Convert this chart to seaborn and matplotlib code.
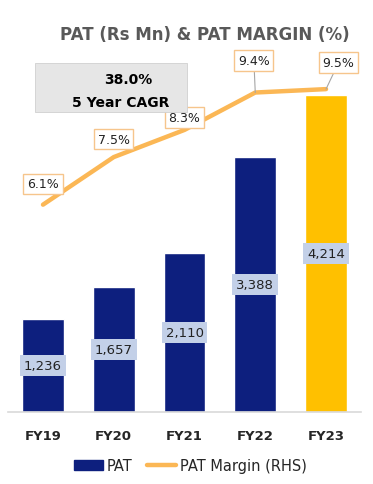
import seaborn as sns
import matplotlib.pyplot as plt
import numpy as np
import pandas as pd
from matplotlib.patches import Patch, Rectangle
from matplotlib.lines import Line2D

years = ['FY19', 'FY20', 'FY21', 'FY22', 'FY23']
pat = [1236, 1657, 2110, 3388, 4214]
pat_margin = [6.1, 7.5, 8.3, 9.4, 9.5]
cagr_value = '38.0%'
cagr_label = '5 Year CAGR'

navy = '#0d1f7e'
gold = '#ffc000'
line_col = '#fbb755'

sns.set_style('white')
plt.rcParams['font.family'] = ['DejaVu Sans']

df = pd.DataFrame({'year': years, 'pat': pat, 'margin': pat_margin})

fig = plt.figure(figsize=(3.73, 4.85), dpi=100)
ax = fig.add_axes([0.0204, 0.1485, 0.9485, 0.775])

bar_colors = [navy] * 4 + [gold]
sns.barplot(data=df, x='year', y='pat', hue='year', palette=bar_colors,
            legend=False, width=0.59, saturation=1, ax=ax)
ax.set_ylim(0, 5000)
ax.set_xlim(-0.5, 4.5)
ax.set_xlabel('')
ax.set_ylabel('')
ax.set_yticks([])
for s in ['top', 'right', 'left']:
    ax.spines[s].set_visible(False)
ax.spines['bottom'].set_color('#d9d9d9')
ax.spines['bottom'].set_linewidth(1.2)
ax.tick_params(axis='x', length=0, pad=12)
for lbl in ax.get_xticklabels():
    lbl.set_fontweight('bold')
    lbl.set_fontsize(9.5)

# bar value labels
for i, v in enumerate(pat):
    ax.text(i, v / 2, f'{v:,}', ha='center', va='center', fontsize=9.5,
            color='#222222',
            bbox=dict(boxstyle='square,pad=0.3', fc='#c3d0e8', ec='none'))

# margin line on secondary axis
ax2 = ax.twinx()
ax2.plot(range(len(years)), pat_margin, color=line_col, lw=3.2,
         solid_capstyle='round')
ax2.set_ylim(0, 11.06)
ax2.set_yticks([])
for s in ax2.spines.values():
    s.set_visible(False)

offsets = [(0, 15), (0, 13), (0, 9), (-1, 23), (9, 19)]
for i, (m, off) in enumerate(zip(pat_margin, offsets)):
    lead = i >= 3
    ax2.annotate(f'{m}%', xy=(i, m), xytext=off, textcoords='offset points',
                 ha='center', va='center', fontsize=9, color='#222222',
                 bbox=dict(boxstyle='square,pad=0.3', fc='white', ec='#f6c58c', lw=1),
                 arrowprops=dict(arrowstyle='-', color='#a6a6a6', lw=0.8,
                                 shrinkA=0, shrinkB=0) if lead else None)

# title and CAGR box
fig.text(0.55, 0.928, 'PAT (Rs Mn) & PAT MARGIN (%)', ha='center', va='center',
         fontsize=12, fontweight='bold', color='#595959')
fig.patches.append(Rectangle((35 / 373, 1 - 113 / 485), 152 / 373, 49 / 485,
                             transform=fig.transFigure, fc='#e6e6e6',
                             ec='#d0d0d0', lw=0.6, zorder=5))
fig.text(128 / 373, 1 - 80 / 485, cagr_value, ha='center', va='center',
         fontsize=10, fontweight='bold', color='black', zorder=6)
fig.text(121 / 373, 1 - 103 / 485, cagr_label, ha='center', va='center',
         fontsize=10, fontweight='bold', color='black', zorder=6)

handles = [Patch(color=navy, label='PAT'),
           Line2D([0], [0], color=line_col, lw=3.2, label='PAT Margin (RHS)')]
fig.legend(handles=handles, loc='center', bbox_to_anchor=(0.51, 0.038), ncol=2,
           frameon=False, fontsize=10.5, handlelength=2.0, columnspacing=1.0,
           handletextpad=0.25)

fig.savefig('out.png', dpi=100)
